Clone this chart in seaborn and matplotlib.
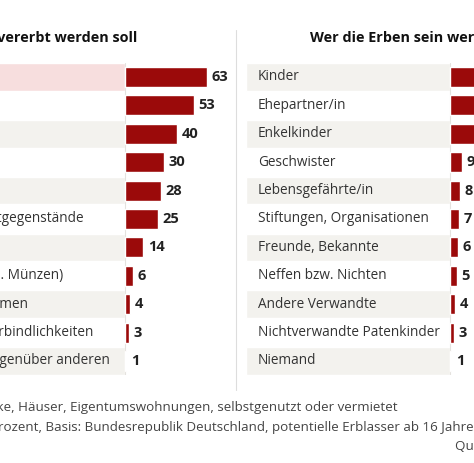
import matplotlib
matplotlib.use("Agg")
import matplotlib.pyplot as plt
import seaborn as sns

# ========= Data =========
what_labels = ["Immobilien*", "Bargeld", "Sparguthaben", "Wertpapiere", "Fahrzeuge",
               "Kunst- und Wertgegenstände", "Hausrat", "Gold, Silber (z. B. Münzen)",
               "Firma/Unternehmen", "Hypotheken, Verbindlichkeiten",
               "Forderungen gegenüber anderen"]
what_values = [63, 53, 40, 30, 28, 25, 14, 6, 4, 3, 1]

who_labels = ["Kinder", "Ehepartner/in", "Enkelkinder", "Geschwister", "Lebensgefährte/in",
              "Stiftungen, Organisationen", "Freunde, Bekannte", "Neffen bzw. Nichten",
              "Andere Verwandte", "Nichtverwandte Patenkinder", "Niemand"]
who_values = [79, 45, 24, 9, 8, 7, 6, 5, 4, 3, 1]

title_left = "Was vererbt werden soll"
title_right = "Wer die Erben sein werden"
footnote = "*) Grundstücke, Häuser, Eigentumswohnungen, selbstgenutzt oder vermietet"
basis = "Angaben in Prozent, Basis: Bundesrepublik Deutschland, potentielle Erblasser ab 16 Jahren"
source = "Quelle: Postbank"

# ========= Style =========
sns.set_theme(style="white")
plt.rcParams["font.family"] = ["Open Sans", "DejaVu Sans"]

W, H = 474, 463
PX = 1.3              # pixels per percentage point
bar_color = "#9b0a0a"
gray_band = "#f3f2ee"
pink_band = "#f7dede"
label_color = "#333333"
value_color = "#222222"

fig = plt.figure(figsize=(W / 100, H / 100), dpi=100)
fig.patch.set_facecolor("white")


def px_axes(x0, x1, y0, y1):
    return fig.add_axes([x0 / W, 1 - y1 / H, (x1 - x0) / W, (y1 - y0) / H])


def draw_panel(ax, labels, values, band_px, bar_start_px, right_px, highlight_first):
    n = len(labels)
    band_w = band_px / PX
    # label bands
    for i in range(n):
        if i % 2 == 0:
            c = pink_band if (i == 0 and highlight_first) else gray_band
            ax.barh(i, band_w, left=-band_w, height=0.965, color=c, zorder=0)
    ax.axvline(0, color="#e4e2de", lw=0.8, zorder=0.5)
    sns.barplot(x=values, y=list(range(n)), orient="h", color=bar_color,
                width=0.7, ax=ax, saturation=1, zorder=2)
    for i, (lab, v) in enumerate(zip(labels, values)):
        ax.text(-band_w + 12 / PX, i, lab, ha="left", va="center",
                fontsize=9.8, color=label_color, zorder=3)
        ax.text(v + 4.5 / PX, i, str(v), ha="left", va="center",
                fontsize=10.5, fontweight="bold", color=value_color, zorder=3)
    ax.set_xlim(-band_w, (right_px - bar_start_px) / PX)
    ax.set_ylim(n - 0.5, -0.5)
    ax.axis("off")


# left panel: band runs off the left edge of the picture
ax_l = px_axes(-114, 230, 62.8, 375.2)
draw_panel(ax_l, what_labels, what_values, 239, 125, 230, True)

# right panel: bars run off the right edge
ax_r = px_axes(246, 560, 62.8, 375.2)
draw_panel(ax_r, who_labels, who_values, 204, 450, 560, False)

# titles
fig.text(137 / W, 1 - 38 / H, title_left, ha="right", va="center",
         fontsize=10.4, fontweight="bold", color="#111111")
fig.text(310 / W, 1 - 38 / H, title_right, ha="left", va="center",
         fontsize=10.4, fontweight="bold", color="#111111")

# separator between the panels
fig.add_artist(plt.Line2D([235.5 / W, 235.5 / W], [1 - 30 / H, 1 - 390 / H],
                          color="#dddddd", lw=0.8))

# footer
fig.text(-84 / W, 1 - 407 / H, footnote, ha="left", va="center", fontsize=9.6, color="#444444")
fig.text(-84 / W, 1 - 428 / H, basis, ha="left", va="center", fontsize=9.6, color="#444444")
fig.text(455 / W, 1 - 447 / H, source, ha="left", va="center", fontsize=9.6, color="#444444")

fig.savefig("out.png", dpi=100)
